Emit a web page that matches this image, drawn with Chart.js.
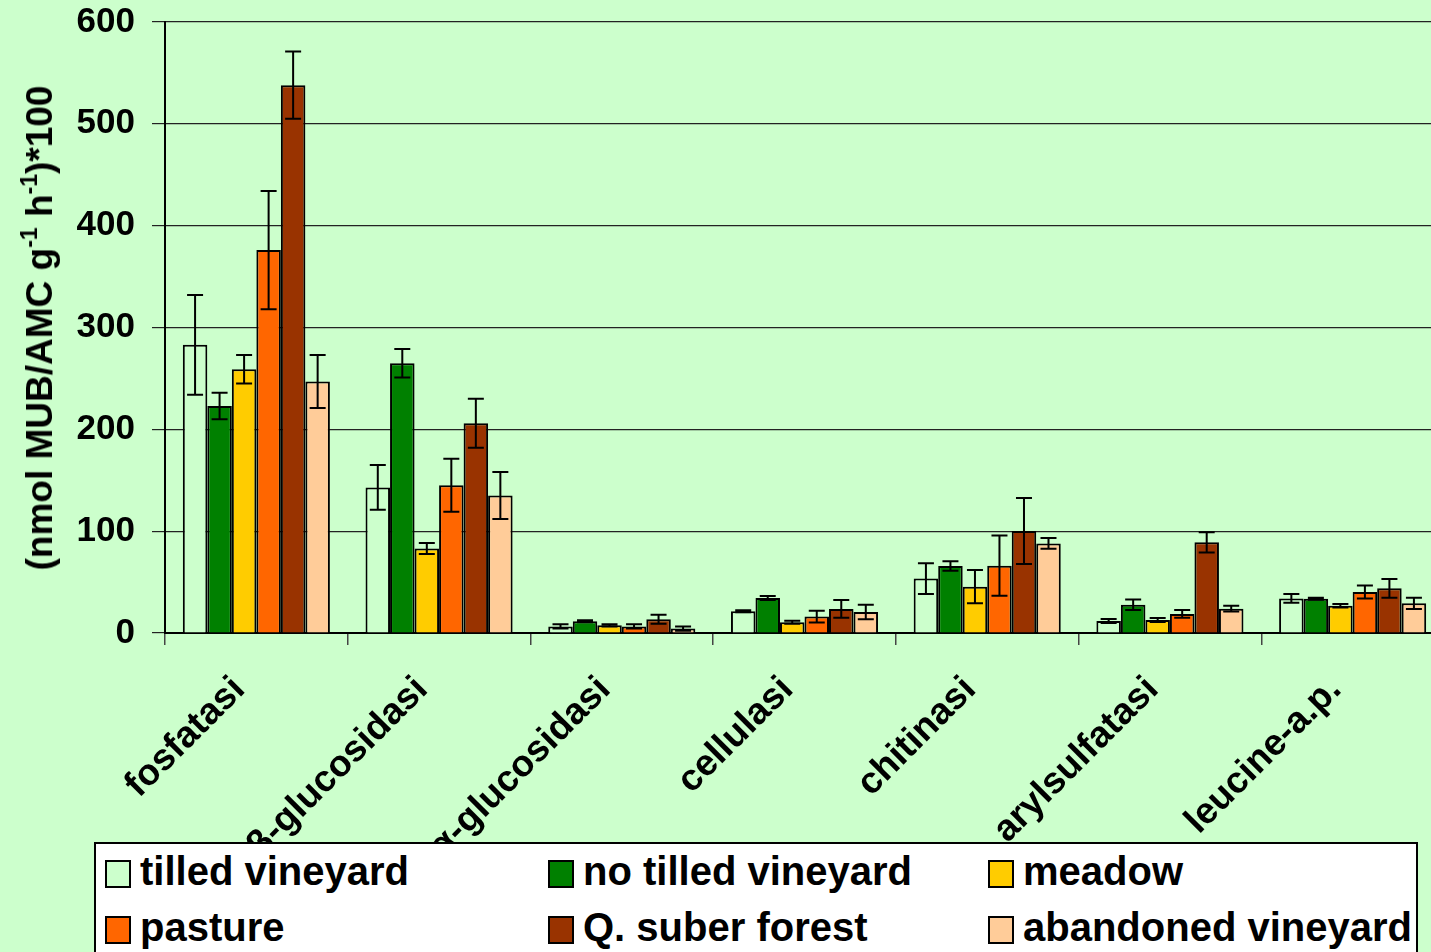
<!DOCTYPE html>
<html>
<head>
<meta charset="utf-8">
<script src="https://cdn.jsdelivr.net/npm/chart.js@4"></script>
<style>
  html, body { margin: 0; padding: 0; background: #CCFFCC; overflow: hidden; }
  #wrap { position: relative; width: 1431px; height: 952px; overflow: hidden; }
  #chart { position: absolute; left: 0; top: 0; }
  .ytitle {
    position: absolute; left: 40px; top: 328px;
    transform: translate(-50%, -50%) rotate(-90deg);
    font: bold 37px "Liberation Sans", Arial, sans-serif; white-space: nowrap; color: #000;
  }
  .ytitle sup { font-size: 23px; vertical-align: 15px; line-height: 0; }
  .legend {
    position: absolute; left: 94px; top: 842px; width: 1324px; height: 130px;
    background: #fff; border: 2px solid #000; box-sizing: border-box;
  }
  .item { position: absolute; font: bold 40px "Liberation Sans", Arial, sans-serif; color: #000; white-space: nowrap; }
  .sw { position: absolute; width: 22px; height: 24px; border: 2px solid #000; }
</style>
</head>
<body>
<div id="wrap">
  <canvas id="chart" width="1444" height="952"></canvas>
  <div class="ytitle">(nmol MUB/AMC g<sup>-1</sup> h<sup>-1</sup>)*100</div>
  <div class="legend" id="legend"></div>
</div>
<script>
// enzyme activities per land use, with standard errors
const categories = ['fosfatasi', 'β-glucosidasi', 'α-glucosidasi', 'cellulasi', 'chitinasi', 'arylsulfatasi', 'leucine-a.p.'];
const seriesNames = ['tilled vineyard', 'no tilled vineyard', 'meadow', 'pasture', 'Q. suber forest', 'abandoned vineyard'];
const seriesColors = ['#CCFFCC', '#008000', '#FFCC00', '#FF6600', '#993300', '#FFCC99'];

const tilledVineyard    = [283, 143, 6.5, 21.3, 53.4, 11.8, 34.0];
const noTilledVineyard  = [223, 265, 11.5, 34.4, 65.8, 27.8, 33.7];
const meadow            = [259, 83, 7.5, 10.5, 45.5, 12.8, 26.8];
const pasture           = [376, 145, 6.5, 16.1, 66.1, 18.7, 40.3];
const suberForest       = [538, 206, 13.4, 23.6, 100.2, 89.0, 43.9];
const abandonedVineyard = [247, 135, 4.3, 20.6, 88.0, 23.9, 29.1];

const tilledVineyardErr    = [49, 22, 2, 1, 15, 2, 4.3];
const noTilledVineyardErr  = [13, 14, 1, 2, 4.7, 5.2, 1];
const meadowErr            = [14, 5.5, 1, 1.5, 16.4, 2, 1.8];
const pastureErr           = [58, 26, 2, 5.7, 29.6, 3.8, 6.4];
const suberForestErr       = [33, 24, 4.4, 8.7, 32.4, 10, 9.2];
const abandonedVineyardErr = [26, 23, 2, 7.2, 5.2, 2.8, 5.6];

const yTicks = [0, 100, 200, 300, 400, 500, 600];

const seriesValues = [tilledVineyard, noTilledVineyard, meadow, pasture, suberForest, abandonedVineyard];
const seriesErrors = [tilledVineyardErr, noTilledVineyardErr, meadowErr, pastureErr, suberForestErr, abandonedVineyardErr];

const FONT = '"Liberation Sans", Arial, sans-serif';

// whiskers for each bar: value ± error, with short caps
const errorBars = {
  id: 'errorBars',
  afterDatasetsDraw(chart) {
    const ctx = chart.ctx;
    const y = chart.scales.y;
    ctx.save();
    ctx.strokeStyle = '#000';
    ctx.lineWidth = 2;
    chart.data.datasets.forEach((ds, i) => {
      const meta = chart.getDatasetMeta(i);
      meta.data.forEach((bar, j) => {
        const v = ds.data[j], e = ds.errors[j];
        const top = y.getPixelForValue(v + e);
        const bot = y.getPixelForValue(v - e);
        const x = bar.x, cap = 8;
        ctx.beginPath();
        ctx.moveTo(x, top); ctx.lineTo(x, bot);
        ctx.moveTo(x - cap, top); ctx.lineTo(x + cap, top);
        ctx.moveTo(x - cap, bot); ctx.lineTo(x + cap, bot);
        ctx.stroke();
      });
    });
    ctx.restore();
  }
};

new Chart(document.getElementById('chart'), {
  type: 'bar',
  data: {
    labels: categories,
    datasets: seriesNames.map((name, i) => ({
      label: name,
      data: seriesValues[i],
      errors: seriesErrors[i],
      backgroundColor: seriesColors[i],
      borderColor: '#000',
      borderWidth: 2,
      categoryPercentage: 0.805,
      barPercentage: 1.0
    }))
  },
  options: {
    responsive: false,
    devicePixelRatio: 1,
    animation: false,
    layout: { padding: { top: 22, left: 0, right: 0, bottom: 0 } },
    plugins: { legend: { display: false }, tooltip: { enabled: false } },
    scales: {
      x: {
        grid: { drawOnChartArea: false, drawTicks: true, tickLength: 12, color: '#444', lineWidth: 1.5, offset: true },
        border: { display: true, color: '#000', width: 2 },
        ticks: {
          minRotation: 45, maxRotation: 45, autoSkip: false, padding: 23, labelOffset: -17,
          color: '#000', font: { family: FONT, size: 37, weight: 'bold' }
        },
        afterFit(scale) { scale.height = 952 - 633; }
      },
      y: {
        min: 0, max: 600,
        afterBuildTicks(scale) { scale.ticks = yTicks.map(v => ({ value: v })); },
        grid: { color: '#222', lineWidth: 1.2, tickLength: 13 },
        border: { display: true, color: '#000', width: 2 },
        ticks: { padding: 17, color: '#000', font: { family: FONT, size: 35, weight: 'bold' } },
        afterFit(scale) {
          scale.width = 165;
          scale.paddingTop = 0;
          scale.paddingBottom = 0;
        }
      }
    }
  },
  plugins: [errorBars]
});

// legend: two rows of three entries
const legend = document.getElementById('legend');
const colX = [9, 452, 892];
const rowY = [12, 68];
seriesNames.forEach((name, i) => {
  const col = i % 3, row = Math.floor(i / 3);
  const sw = document.createElement('div');
  sw.className = 'sw';
  sw.style.left = colX[col] + 'px';
  sw.style.top = (rowY[row] + 4) + 'px';
  sw.style.background = seriesColors[i];
  legend.appendChild(sw);
  const t = document.createElement('div');
  t.className = 'item';
  t.style.left = (colX[col] + 35) + 'px';
  t.style.top = (rowY[row] - 7) + 'px';
  t.textContent = name;
  legend.appendChild(t);
});
</script>
</body>
</html>
